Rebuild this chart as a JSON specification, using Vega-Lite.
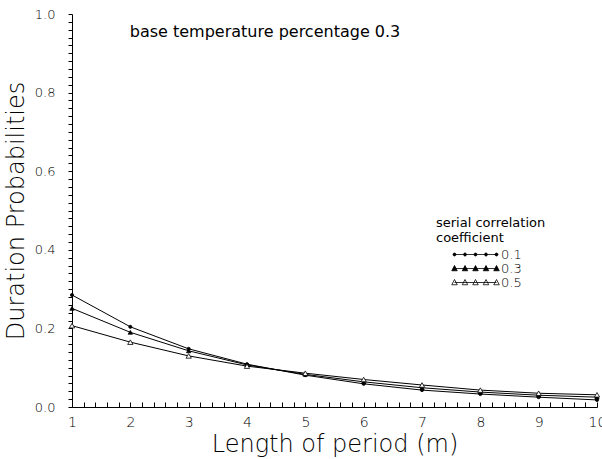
{
  "$schema": "https://vega.github.io/schema/vega-lite/v6.json",
  "width": 525,
  "height": 393,
  "autosize": {"type": "none"},
  "padding": {"left": 72, "top": 14, "right": 5, "bottom": 52},
  "background": "white",
  "config": {"view": {"stroke": null}, "font": "DejaVu Sans"},
  "data": {"values": [
    {"series": "0.1", "period": 1, "prob": 0.285},
    {"series": "0.1", "period": 2, "prob": 0.204},
    {"series": "0.1", "period": 3, "prob": 0.148},
    {"series": "0.1", "period": 4, "prob": 0.109},
    {"series": "0.1", "period": 5, "prob": 0.081},
    {"series": "0.1", "period": 6, "prob": 0.059},
    {"series": "0.1", "period": 7, "prob": 0.043},
    {"series": "0.1", "period": 8, "prob": 0.033},
    {"series": "0.1", "period": 9, "prob": 0.025},
    {"series": "0.1", "period": 10, "prob": 0.018},
    {"series": "0.3", "period": 1, "prob": 0.251},
    {"series": "0.3", "period": 2, "prob": 0.190},
    {"series": "0.3", "period": 3, "prob": 0.143},
    {"series": "0.3", "period": 4, "prob": 0.107},
    {"series": "0.3", "period": 5, "prob": 0.083},
    {"series": "0.3", "period": 6, "prob": 0.064},
    {"series": "0.3", "period": 7, "prob": 0.049},
    {"series": "0.3", "period": 8, "prob": 0.038},
    {"series": "0.3", "period": 9, "prob": 0.030},
    {"series": "0.3", "period": 10, "prob": 0.025},
    {"series": "0.5", "period": 1, "prob": 0.207},
    {"series": "0.5", "period": 2, "prob": 0.165},
    {"series": "0.5", "period": 3, "prob": 0.130},
    {"series": "0.5", "period": 4, "prob": 0.104},
    {"series": "0.5", "period": 5, "prob": 0.086},
    {"series": "0.5", "period": 6, "prob": 0.070},
    {"series": "0.5", "period": 7, "prob": 0.056},
    {"series": "0.5", "period": 8, "prob": 0.043},
    {"series": "0.5", "period": 9, "prob": 0.035},
    {"series": "0.5", "period": 10, "prob": 0.031}
  ]},
  "layer": [
    {
      "mark": {"type": "line", "color": "black", "strokeWidth": 1},
      "encoding": {
        "x": {
          "field": "period", "type": "quantitative",
          "scale": {"domain": [1, 10], "nice": false, "zero": false},
          "axis": {
            "values": [1,1.2,1.4,1.6,1.8,2,2.2,2.4,2.6,2.8,3,3.2,3.4,3.6,3.8,4,4.2,4.4,4.6,4.8,5,5.2,5.4,5.6,5.8,6,6.2,6.4,6.6,6.8,7,7.2,7.4,7.6,7.8,8,8.2,8.4,8.6,8.8,9,9.2,9.4,9.6,9.8,10],
            "tickCount": 200,
            "labelExpr": "abs(datum.value - round(datum.value)) < 0.001 ? format(datum.value, 'd') : ''",
            "labelOverlap": false,
            "labelFlush": false,
            "grid": false,
            "tickSize": -5,
            "tickColor": "black",
            "domainColor": "black",
            "labelPadding": 13,
            "labelFont": "DejaVu Sans",
            "labelFontWeight": 200,
            "labelFontSize": 14,
            "labelColor": "black",
            "title": "Length of period (m)",
            "titleFont": "DejaVu Sans",
            "titleFontWeight": 200,
            "titleFontSize": 24,
            "titleColor": "black",
            "titlePadding": 3
          }
        },
        "y": {
          "field": "prob", "type": "quantitative",
          "scale": {"domain": [0, 1], "nice": false},
          "axis": {
            "values": [0,0.02,0.04,0.06,0.08,0.1,0.12,0.14,0.16,0.18,0.2,0.22,0.24,0.26,0.28,0.3,0.32,0.34,0.36,0.38,0.4,0.42,0.44,0.46,0.48,0.5,0.52,0.54,0.56,0.58,0.6,0.62,0.64,0.66,0.68,0.7,0.72,0.74,0.76,0.78,0.8,0.82,0.84,0.86,0.88,0.9,0.92,0.94,0.96,0.98,1],
            "tickCount": 200,
            "labelExpr": "abs(datum.value * 5 - round(datum.value * 5)) < 0.001 ? format(datum.value, '.1f') : ''",
            "labelOverlap": false,
            "labelFlush": false,
            "grid": false,
            "tickSize": 4,
            "tickColor": "black",
            "domainColor": "black",
            "labelPadding": 13,
            "labelFont": "DejaVu Sans",
            "labelFontWeight": 200,
            "labelFontSize": 13,
            "labelColor": "black",
            "title": "Duration Probabilities",
            "titleFont": "DejaVu Sans",
            "titleFontWeight": 200,
            "titleFontSize": 24,
            "titleColor": "black",
            "titlePadding": 6
          }
        },
        "detail": {"field": "series"}
      }
    },
    {
      "mark": {"type": "point", "stroke": "black", "strokeWidth": 0.8, "opacity": 1},
      "encoding": {
        "x": {"field": "period", "type": "quantitative"},
        "y": {"field": "prob", "type": "quantitative"},
        "shape": {"field": "series", "type": "nominal", "scale": {"domain": ["0.1", "0.3", "0.5"], "range": ["circle", "triangle-up", "triangle-up"]}, "legend": null},
        "fill": {"field": "series", "type": "nominal", "scale": {"domain": ["0.1", "0.3", "0.5"], "range": ["black", "black", "white"]}, "legend": null},
        "size": {"field": "series", "type": "nominal", "scale": {"domain": ["0.1", "0.3", "0.5"], "range": [10, 28, 28]}, "legend": null}
      }
    },
    {
      "transform": [{"filter": "datum.period > 100"}],
      "mark": {"type": "point", "strokeWidth": 0.8, "opacity": 1},
      "encoding": {
        "x": {"field": "period", "type": "quantitative"},
        "y": {"field": "prob", "type": "quantitative"},
        "shape": {
          "field": "series", "type": "nominal",
          "scale": {"domain": ["0.1", "0.3", "0.5"], "range": [
            "M2.4,0L10.8,0M2.1,0a0.3,0.3 0 1,0 0.6,0a0.3,0.3 0 1,0 -0.6,0ZM4.2,0a0.3,0.3 0 1,0 0.6,0a0.3,0.3 0 1,0 -0.6,0ZM6.3,0a0.3,0.3 0 1,0 0.6,0a0.3,0.3 0 1,0 -0.6,0ZM8.4,0a0.3,0.3 0 1,0 0.6,0a0.3,0.3 0 1,0 -0.6,0ZM10.5,0a0.3,0.3 0 1,0 0.6,0a0.3,0.3 0 1,0 -0.6,0Z",
            "M2.4,0L10.8,0M2.4,-0.6L2.95,0.45L1.85,0.45ZM4.5,-0.6L5.05,0.45L3.95,0.45ZM6.6,-0.6L7.15,0.45L6.05,0.45ZM8.7,-0.6L9.25,0.45L8.15,0.45ZM10.8,-0.6L11.35,0.45L10.25,0.45Z",
            "M2.4,0L10.8,0M2.4,-0.6L2.95,0.45L1.85,0.45ZM4.5,-0.6L5.05,0.45L3.95,0.45ZM6.6,-0.6L7.15,0.45L6.05,0.45ZM8.7,-0.6L9.25,0.45L8.15,0.45ZM10.8,-0.6L11.35,0.45L10.25,0.45Z"
          ]},
          "legend": {
            "orient": "none",
            "legendX": 364,
            "legendY": 203,
            "padding": 0,
            "title": ["serial correlation", "coefficient"],
            "titleFont": "DejaVu Sans",
            "titleFontSize": 13,
            "titleFontWeight": "normal",
            "titleColor": "black",
            "titleLineHeight": 15,
            "titlePadding": 3,
            "symbolSize": 100,
            "symbolStrokeColor": "black",
            "symbolStrokeWidth": 0.8,
            "symbolOpacity": 1,
            "labelOffset": 52,
            "labelFont": "DejaVu Sans",
            "labelFontWeight": 200,
            "labelFontSize": 13,
            "labelColor": "black",
            "rowPadding": -2.5
          }
        },
        "fill": {
          "field": "series", "type": "nominal",
          "scale": {"domain": ["0.1", "0.3", "0.5"], "range": ["black", "black", "white"]},
          "legend": {
            "orient": "none",
            "legendX": 364,
            "legendY": 203,
            "padding": 0,
            "title": ["serial correlation", "coefficient"]
          }
        },
        "stroke": {
          "field": "series", "type": "nominal",
          "scale": {"domain": ["0.1", "0.3", "0.5"], "range": ["black", "black", "black"]},
          "legend": {
            "orient": "none",
            "legendX": 364,
            "legendY": 203,
            "padding": 0,
            "title": ["serial correlation", "coefficient"]
          }
        }
      }
    },
    {
      "data": {"values": [{"label": "base temperature percentage 0.3"}]},
      "mark": {"type": "text", "align": "left", "baseline": "middle", "font": "DejaVu Sans", "fontSize": 16, "color": "black"},
      "encoding": {
        "x": {"datum": 1.99, "type": "quantitative"},
        "y": {"datum": 0.954, "type": "quantitative"},
        "text": {"field": "label"}
      }
    }
  ],
  "resolve": {"scale": {"shape": "independent", "fill": "independent", "size": "independent", "stroke": "independent"}}
}
